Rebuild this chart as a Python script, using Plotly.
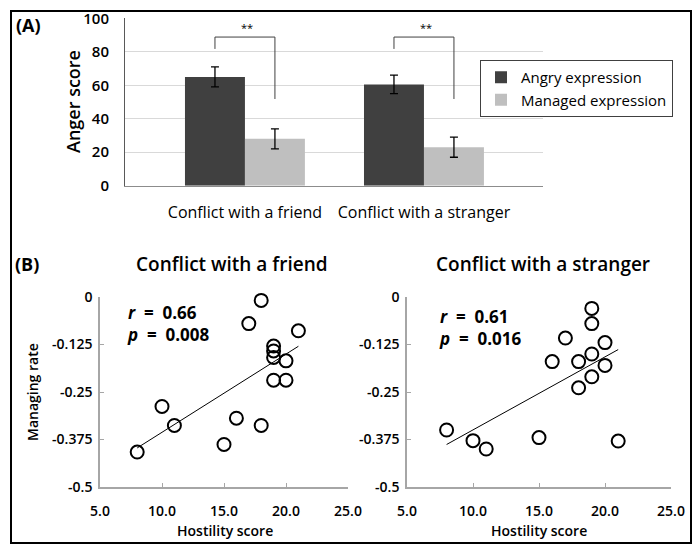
import numpy as np
import plotly.graph_objects as go

# panel A data
conditions = ["Conflict with a friend", "Conflict with a stranger"]
angry = [65, 60.5]
angry_err = [6, 5.5]
managed = [28, 23]
managed_err = [6, 6]

# panel B data
friend_x = [18, 17, 21, 19, 19, 19, 20, 19, 20, 10, 11, 16, 18, 15, 8]
friend_y = [-0.009, -0.07, -0.089, -0.129, -0.142, -0.159, -0.168, -0.219,
            -0.219, -0.288, -0.338, -0.319, -0.338, -0.388, -0.408]
stranger_x = [19, 19, 17, 20, 19, 16, 18, 20, 19, 18, 8, 15, 10, 21, 11]
stranger_y = [-0.030, -0.070, -0.108, -0.120, -0.150, -0.170, -0.170, -0.180,
              -0.210, -0.239, -0.350, -0.370, -0.378, -0.379, -0.400]
stats = [("0.66", "0.008"), ("0.61", "0.016")]

FONT = "Open Sans"
W, H = 699, 552


def px_x(p):
    return p / W


def px_y(p):
    return 1 - p / H


fig = go.Figure()

fig.add_trace(go.Bar(x=conditions, y=angry, name="Angry expression",
                     marker=dict(color="#404040", line=dict(width=0)),
                     error_y=dict(type="data", array=angry_err, color="black",
                                  thickness=1.3, width=4),
                     xaxis="x", yaxis="y"))
fig.add_trace(go.Bar(x=conditions, y=managed, name="Managed expression",
                     marker=dict(color="#bfbfbf", line=dict(width=0)),
                     error_y=dict(type="data", array=managed_err, color="black",
                                  thickness=1.3, width=4),
                     xaxis="x", yaxis="y"))

# significance brackets over each pair of bars
half = 0.1675
for i in range(len(conditions)):
    fig.add_shape(type="path",
                  path=f"M {i - half} 81.7 L {i - half} 88.8 L {i + half} 88.8 L {i + half} 51.8",
                  xref="x", yref="y", line=dict(color="#404040", width=1))
    fig.add_annotation(x=i + 0.01, y=94.5, xref="x", yref="y", text="**",
                       showarrow=False, font=dict(family=FONT, size=11, color="black"))

scatter_sets = [(friend_x, friend_y, "x2", "y2"), (stranger_x, stranger_y, "x3", "y3")]
for xs, ys, xa, ya in scatter_sets:
    fig.add_trace(go.Scatter(x=xs, y=ys, mode="markers", showlegend=False,
                             cliponaxis=False,
                             marker=dict(symbol="circle-open", size=13,
                                         color="black", line=dict(width=2)),
                             xaxis=xa, yaxis=ya))
    slope, icpt = np.polyfit(xs, ys, 1)
    lx = np.array([min(xs), max(xs)])
    fig.add_trace(go.Scatter(x=lx, y=slope * lx + icpt, mode="lines",
                             showlegend=False, line=dict(color="black", width=1),
                             xaxis=xa, yaxis=ya))

tickfont = dict(family=FONT, size=14, color="black", weight=600)
b_yvals = [0, -0.125, -0.25, -0.375, -0.5]
b_ytext = ["0", "-0.125", "-0.25", "-0.375", "-0.5"]
b_xvals = [5, 10, 15, 20, 25]

axis_b = dict(showgrid=False, zeroline=False, showline=True, linecolor="#a6a6a6",
              linewidth=1.5, ticks="inside", ticklen=4, tickcolor="#a6a6a6",
              tickfont=tickfont, automargin=False)

fig.update_layout(
    width=W, height=H, margin=dict(l=0, r=0, t=0, b=0, autoexpand=False),
    paper_bgcolor="white", plot_bgcolor="white",
    barmode="group", bargap=0.33, bargroupgap=0,
    font=dict(family=FONT, color="black"),
    xaxis=dict(domain=[px_x(125), px_x(543)], anchor="y", range=[-0.67, 1.665],
               showline=True, linecolor="#8c8c8c", linewidth=1, ticks="",
               tickfont=dict(family=FONT, size=16, color="black", weight=500),
               ticklabelstandoff=12, automargin=False),
    yaxis=dict(domain=[px_y(185.7), px_y(18.3)], anchor="x", range=[0, 100],
               tickvals=[0, 20, 40, 60, 80, 100], showgrid=True,
               gridcolor="#d9d9d9", gridwidth=1, zeroline=False,
               showline=True, linecolor="#595959", linewidth=1, ticks="",
               tickfont=dict(family=FONT, size=15, color="black", weight=600),
               ticklabelstandoff=12, automargin=False),
    xaxis2=dict(axis_b, domain=[px_x(100), px_x(348)], anchor="y2", range=[5, 25],
                tickvals=b_xvals, tickformat=".1f", ticklabelstandoff=10),
    yaxis2=dict(axis_b, domain=[px_y(487), px_y(297)], anchor="x2", range=[-0.5, 0],
                tickvals=b_yvals, ticktext=b_ytext, ticklabelstandoff=3),
    xaxis3=dict(axis_b, domain=[px_x(407), px_x(671)], anchor="y3", range=[5, 25],
                tickvals=b_xvals, tickformat=".1f", ticklabelstandoff=10),
    yaxis3=dict(axis_b, domain=[px_y(487), px_y(297)], anchor="x3", range=[-0.5, 0],
                tickvals=b_yvals, ticktext=b_ytext, ticklabelstandoff=3),
    legend=dict(x=px_x(480), y=px_y(60), xanchor="left", yanchor="top",
                bgcolor="white", bordercolor="#404040", borderwidth=1,
                font=dict(family=FONT, size=15, color="black"),
                tracegroupgap=0, itemwidth=30),
)

# outer frame
fig.add_shape(type="rect", xref="paper", yref="paper",
              x0=px_x(11), x1=px_x(691), y0=px_y(543), y1=px_y(11),
              line=dict(color="black", width=2), layer="below")


def label(text, x, y, size, weight=600, angle=0, xanchor="center"):
    fig.add_annotation(x=px_x(x), y=px_y(y), xref="paper", yref="paper",
                       text=text, showarrow=False, textangle=angle, xanchor=xanchor,
                       yanchor="middle", align="left",
                       font=dict(family=FONT, size=size, color="black", weight=weight))


label("(A)", 14, 25, 18, weight="bold", xanchor="left")
label("Anger score", 73, 102, 18, angle=-90)
label("(B)", 13, 264, 18, weight="bold", xanchor="left")
label("Conflict with a friend", 232, 264, 19)
label("Conflict with a stranger", 543, 264, 19)
label("Managing rate", 32, 392, 14, angle=-90)
label("Hostility score", 225, 530, 14)
label("Hostility score", 539, 530, 14)

for (r, p), (lx0, ry) in zip(stats, [(125, 323), (437, 327)]):
    label(f"<i>r</i>  =  {r}<br><i>p</i>  =  {p}", lx0, ry, 17, weight="bold",
          xanchor="left")

# the page body has a default 8px margin; drop it so the figure fills the window
fig.write_html("out.html", config={"displayModeBar": False},
               post_script="document.body.style.margin='0';")
